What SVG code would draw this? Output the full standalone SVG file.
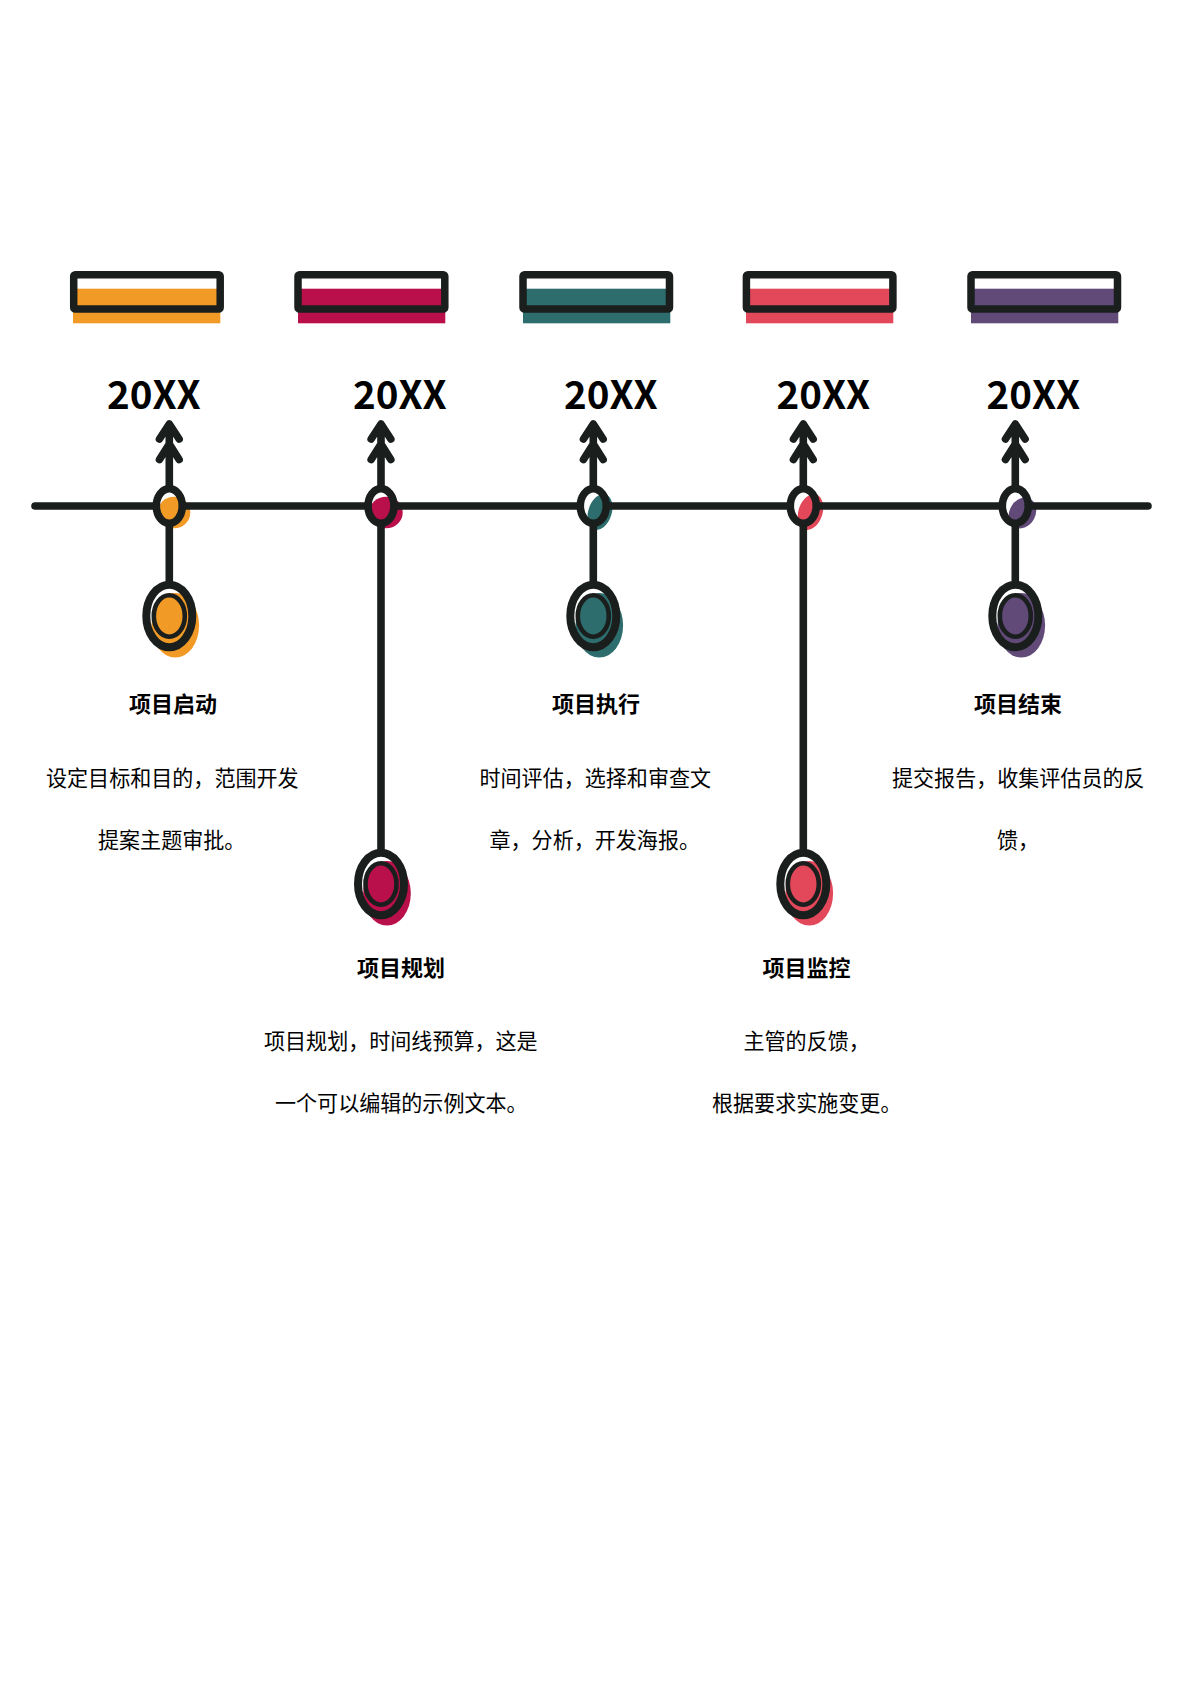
<svg xmlns="http://www.w3.org/2000/svg" width="1191" height="1684" viewBox="0 0 1191 1684">
<style>
.ink{fill:none;stroke:#1a1f1e;stroke-width:7.6;stroke-linecap:round;stroke-linejoin:round}
.rim{fill:none;stroke:#1a1f1e;stroke-width:7.6}
.rimb{fill:none;stroke:#1a1f1e;stroke-width:8}
.ring{fill:none;stroke:#1a1f1e;stroke-width:4.6}
.bar{fill:none;stroke:#1a1f1e;stroke-width:7.5;stroke-linejoin:round}
.year{font:700 38.5px "Noto Sans CJK SC","Noto Sans",sans-serif;fill:#000}
.title{font:700 22px "Noto Sans CJK SC",sans-serif;fill:#000}
.body{font:400 21.05px "Noto Sans CJK SC",sans-serif;fill:#000}
.c1{fill:#f19a26}.c2{fill:#b90f4a}.c3{fill:#2d6d6d}.c4{fill:#e2485a}.c5{fill:#614a78}
</style>
<rect width="1191" height="1684" fill="#fff"/>
<g id="node-1">
<rect class="c1" x="73" y="288.700" width="147.300" height="34.600"/><rect class="bar" x="73.700" y="274.700" width="146.500" height="34.300" rx="1.500"/>
<text class="year" x="107" y="409.400">20XX</text>
<ellipse class="c1" cx="174" cy="512.500" rx="16.300" ry="15.800"/><ellipse class="rim" cx="169.300" cy="506" rx="13" ry="17.400"/>
<ellipse class="c1" cx="175.300" cy="625.300" rx="23.800" ry="32.300"/><ellipse class="c1" cx="169.300" cy="616" rx="15.500" ry="20.700"/><ellipse class="ring" cx="169.300" cy="616" rx="15.500" ry="20.700"/><ellipse class="rimb" cx="169.300" cy="616" rx="23" ry="31.200"/>
<text class="title" x="129" y="712.400">项目启动</text>
<text class="body" x="46" y="785.500">设定目标和目的，范围开发</text>
<text class="body" x="98" y="847.500">提案主题审批。</text>
</g>
<g id="node-2">
<rect class="c2" x="298" y="288.700" width="147.300" height="34.600"/><rect class="bar" x="298" y="274.700" width="146.800" height="34.300" rx="1.500"/>
<text class="year" x="353" y="409.400">20XX</text>
<ellipse class="c2" cx="386" cy="512.500" rx="16.700" ry="15.800"/><ellipse class="rim" cx="381" cy="506" rx="13" ry="17.400"/>
<ellipse class="c2" cx="387" cy="893.300" rx="23.800" ry="32.300"/><ellipse class="c2" cx="381" cy="884" rx="15.500" ry="20.700"/><ellipse class="ring" cx="381" cy="884" rx="15.500" ry="20.700"/><ellipse class="rimb" cx="381" cy="884" rx="23" ry="31.200"/>
<text class="title" x="357" y="975.700">项目规划</text>
<text class="body" x="264" y="1048.500">项目规划，时间线预算，这是</text>
<text class="body" x="275" y="1110.500">一个可以编辑的示例文本。</text>
</g>
<g id="node-3">
<rect class="c3" x="523" y="288.700" width="147.300" height="34.600"/><rect class="bar" x="523" y="274.700" width="146.500" height="34.300" rx="1.500"/>
<text class="year" x="564" y="409.400">20XX</text>
<ellipse class="c3" cx="600" cy="512" rx="11.700" ry="18.500" transform="rotate(18 600 512)"/><ellipse class="rim" cx="593.300" cy="506" rx="13" ry="17.400"/>
<ellipse class="c3" cx="599.300" cy="625.300" rx="23.800" ry="32.300"/><ellipse class="c3" cx="593.300" cy="616" rx="15.500" ry="20.700"/><ellipse class="ring" cx="593.300" cy="616" rx="15.500" ry="20.700"/><ellipse class="rimb" cx="593.300" cy="616" rx="23" ry="31.200"/>
<text class="title" x="552" y="712.400">项目执行</text>
<text class="body" x="479.500" y="785.500">时间评估，选择和审查文</text>
<text class="body" x="489.500" y="847.500">章，分析，开发海报。</text>
</g>
<g id="node-4">
<rect class="c4" x="746" y="288.700" width="147.300" height="34.600"/><rect class="bar" x="746.400" y="274.700" width="146.500" height="34.300" rx="1.500"/>
<text class="year" x="776.500" y="409.400">20XX</text>
<ellipse class="c4" cx="810.500" cy="512" rx="12" ry="18.500" transform="rotate(18 810.500 512)"/><ellipse class="rim" cx="803.300" cy="506" rx="13" ry="17.400"/>
<ellipse class="c4" cx="809.300" cy="893.300" rx="23.800" ry="32.300"/><ellipse class="c4" cx="803.300" cy="884" rx="15.500" ry="20.700"/><ellipse class="ring" cx="803.300" cy="884" rx="15.500" ry="20.700"/><ellipse class="rimb" cx="803.300" cy="884" rx="23" ry="31.200"/>
<text class="title" x="762.500" y="975.700">项目监控</text>
<text class="body" x="743.500" y="1048.500">主管的反馈，</text>
<text class="body" x="712" y="1110.500">根据要求实施变更。</text>
</g>
<g id="node-5">
<rect class="c5" x="971" y="288.700" width="147.300" height="34.600"/><rect class="bar" x="971" y="274.700" width="146.500" height="34.300" rx="1.500"/>
<text class="year" x="986.500" y="409.400">20XX</text>
<ellipse class="c5" cx="1022.500" cy="513" rx="13" ry="16" transform="rotate(28 1022.500 513)"/><ellipse class="rim" cx="1015.300" cy="506" rx="13" ry="17.400"/>
<ellipse class="c5" cx="1021.300" cy="625.300" rx="23.800" ry="32.300"/><ellipse class="c5" cx="1015.300" cy="616" rx="15.500" ry="20.700"/><ellipse class="ring" cx="1015.300" cy="616" rx="15.500" ry="20.700"/><ellipse class="rimb" cx="1015.300" cy="616" rx="23" ry="31.200"/>
<text class="title" x="974" y="712.400">项目结束</text>
<text class="body" x="892" y="785.500">提交报告，收集评估员的反</text>
<text class="body" x="997" y="847.500">馈，</text>
</g>
<g id="connectors">
<path class="ink" d="M35 506H156M182.500 506H368M394 506H580M606.500 506H790M816.500 506H1002M1028.500 506H1148"/>
<path class="ink" d="M169.300 425V488M159.500 439L169.300 424L179.100 439M159.500 459.500L169.300 444L179.100 459.500"/>
<path class="ink" d="M381 425V488M371.200 439L381 424L390.800 439M371.200 459.500L381 444L390.800 459.500"/>
<path class="ink" d="M593.300 425V488M583.500 439L593.300 424L603.100 439M583.500 459.500L593.300 444L603.100 459.500"/>
<path class="ink" d="M803.300 425V488M793.500 439L803.300 424L813.100 439M793.500 459.500L803.300 444L813.100 459.500"/>
<path class="ink" d="M1015.300 425V488M1005.500 439L1015.300 424L1025.100 439M1005.500 459.500L1015.300 444L1025.100 459.500"/>
<path class="ink" d="M169.300 524V584M593.300 524V584M1015.300 524V584M381 524V852M803.300 524V852"/>
</g>
</svg>
